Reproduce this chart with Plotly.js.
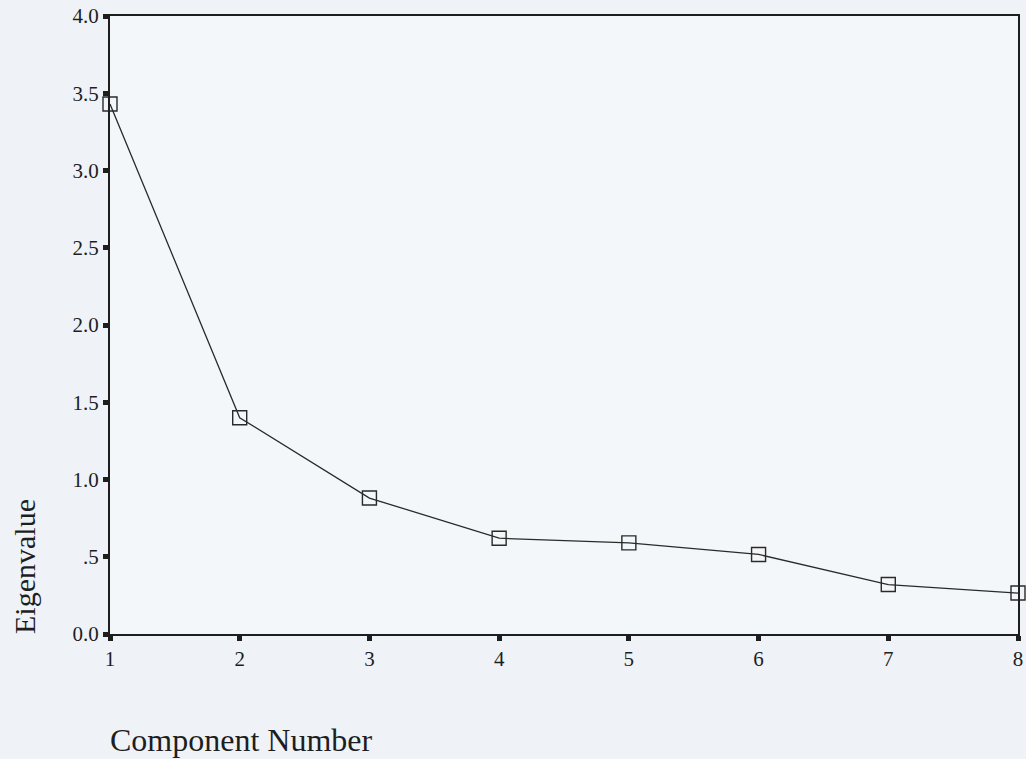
<!DOCTYPE html>
<html>
<head>
<meta charset="utf-8">
<script src="https://cdn.plot.ly/plotly-3.0.1.min.js"></script>
<style>html,body{margin:0;padding:0;background:#eff3f8;}</style>
</head>
<body>
<div id="chart" style="width:1026px;height:759px;"></div>
<script>
const components = [1, 2, 3, 4, 5, 6, 7, 8];
const eigenvalues = [3.43, 1.40, 0.88, 0.62, 0.59, 0.515, 0.32, 0.265];
const yTickVals = [0, 0.5, 1, 1.5, 2, 2.5, 3, 3.5, 4];
const yTickText = ['0.0', '.5', '1.0', '1.5', '2.0', '2.5', '3.0', '3.5', '4.0'];
const xTickVals = [1, 2, 3, 4, 5, 6, 7, 8];
const xTickText = ['1', '2', '3', '4', '5', '6', '7', '8'];
const xTitle = 'Component Number';
const yTitle = 'Eigenvalue';

const fontFam = '"Liberation Serif", "DejaVu Serif", serif';
const ink = '#1e1e1e';

const trace = {
  x: components,
  y: eigenvalues,
  type: 'scatter',
  mode: 'lines+markers',
  cliponaxis: false,
  line: {color: '#2a2a2a', width: 1.3},
  marker: {symbol: 'square-open', size: 14, color: '#2a2a2a', line: {width: 1.4, color: '#2a2a2a'}},
  hoverinfo: 'x+y'
};

const layout = {
  width: 1026,
  height: 759,
  margin: {l: 110, r: 8, t: 16, b: 125},
  paper_bgcolor: '#eff3f8',
  plot_bgcolor: '#f4f7fa',
  showlegend: false,
  font: {family: fontFam, color: ink, size: 21},
  xaxis: {
    range: [1, 8],
    tickvals: xTickVals,
    ticktext: xTickText,
    ticks: 'outside',
    ticklen: 5,
    tickwidth: 5,
    tickcolor: ink,
    showline: true,
    linecolor: ink,
    linewidth: 2,
    mirror: true,
    showgrid: false,
    zeroline: false,
    tickfont: {family: fontFam, size: 21, color: ink}
  },
  yaxis: {
    range: [0, 4],
    tickvals: yTickVals,
    ticktext: yTickText,
    ticks: 'outside',
    ticklen: 5,
    tickwidth: 5,
    tickcolor: ink,
    showline: true,
    linecolor: ink,
    linewidth: 2,
    mirror: true,
    showgrid: false,
    zeroline: false,
    tickfont: {family: fontFam, size: 21, color: ink}
  },
  annotations: [
    {
      text: xTitle, xref: 'paper', yref: 'paper',
      x: (241 - 110) / 908, y: -(740 - 634) / 618,
      xanchor: 'center', yanchor: 'middle', showarrow: false,
      font: {family: fontFam, size: 32, color: ink}
    },
    {
      text: yTitle, xref: 'paper', yref: 'paper',
      x: (24 - 110) / 908, y: (634 - 567) / 618,
      xanchor: 'center', yanchor: 'middle', textangle: -90, showarrow: false,
      font: {family: fontFam, size: 30, color: ink}
    }
  ]
};

Plotly.newPlot('chart', [trace], layout, {displayModeBar: false, staticPlot: true});
</script>
</body>
</html>
